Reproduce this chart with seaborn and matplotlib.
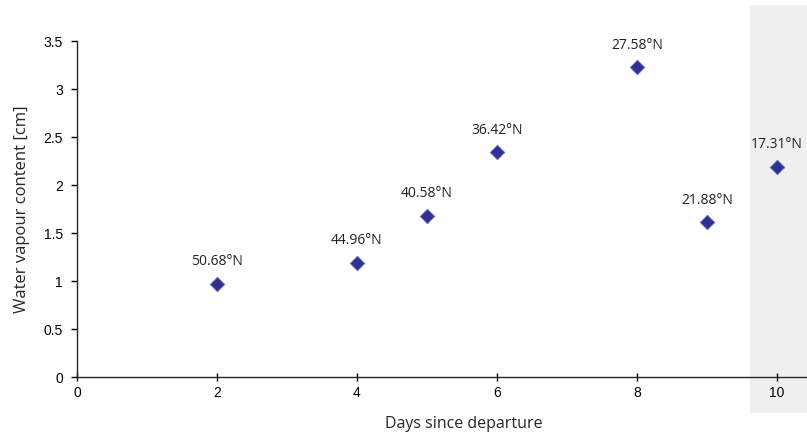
import numpy as np
import pandas as pd
import matplotlib
matplotlib.use("Agg")
import matplotlib.pyplot as plt
import seaborn as sns

# Data
days = [2, 4, 5, 6, 8, 9, 10]
water_vapour = [0.97, 1.19, 1.68, 2.34, 3.23, 1.61, 2.19]
latitudes = ["50.68°N", "44.96°N", "40.58°N", "36.42°N", "27.58°N", "21.88°N", "17.31°N"]
x_ticks = [0, 2, 4, 6, 8, 10]
y_ticks = [0, 0.5, 1, 1.5, 2, 2.5, 3, 3.5]
y_tick_labels = ["0", "0.5", "1", "1.5", "2", "2.5", "3", "3.5"]

df = pd.DataFrame({"day": days, "wv": water_vapour, "lat": latitudes})

sns.set_style("ticks")
plt.rcParams['font.family'] = ['Liberation Sans', 'DejaVu Sans']

fig = plt.figure(figsize=(8.07, 4.36), dpi=100)
ax = fig.add_axes([0.0954, 0.1353, 0.9046, 0.7706])

# Shaded region for the last day
ax.axvspan(9.61, 10.5, ymin=-0.107, ymax=1.107, color="#eeefee", clip_on=False, zorder=0, lw=0)

sns.scatterplot(data=df, x="day", y="wv", marker="D", s=55, color="#2e3192",
                edgecolor="#6a6fc0", linewidth=0.6, ax=ax, zorder=3)

for d, w, lab in zip(days, water_vapour, latitudes):
    ax.text(d, w + 0.15, lab, ha="center", va="bottom", fontsize=10,
            family=["Open Sans", "DejaVu Sans"], color="#222222")

ax.set_xlim(0, 10.43)
ax.set_ylim(0, 3.5)
ax.set_xticks(x_ticks)
ax.set_yticks(y_ticks)
ax.set_yticklabels(y_tick_labels)
ax.tick_params(axis="both", labelsize=10, length=4, width=1, colors="black")
ax.tick_params(axis="x", direction="inout", length=6)
ax.tick_params(axis="y", direction="in", length=4, pad=10)
for t in ax.get_yticklines():
    t.set_marker(matplotlib.lines.TICKLEFT)

ax.set_xlabel("Days since departure", fontsize=11.5, family=["Open Sans", "DejaVu Sans"])
ax.set_ylabel("Water vapour content [cm]", fontsize=12, family=["Open Sans", "DejaVu Sans"], labelpad=10)
ax.xaxis.set_label_coords(0.53, -0.115)

sns.despine(ax=ax, top=True, right=True)
ax.spines["left"].set_linewidth(1)
ax.spines["bottom"].set_linewidth(1)
ax.patch.set_alpha(0)
ax.grid(False)

fig.savefig("out.png", dpi=100)
